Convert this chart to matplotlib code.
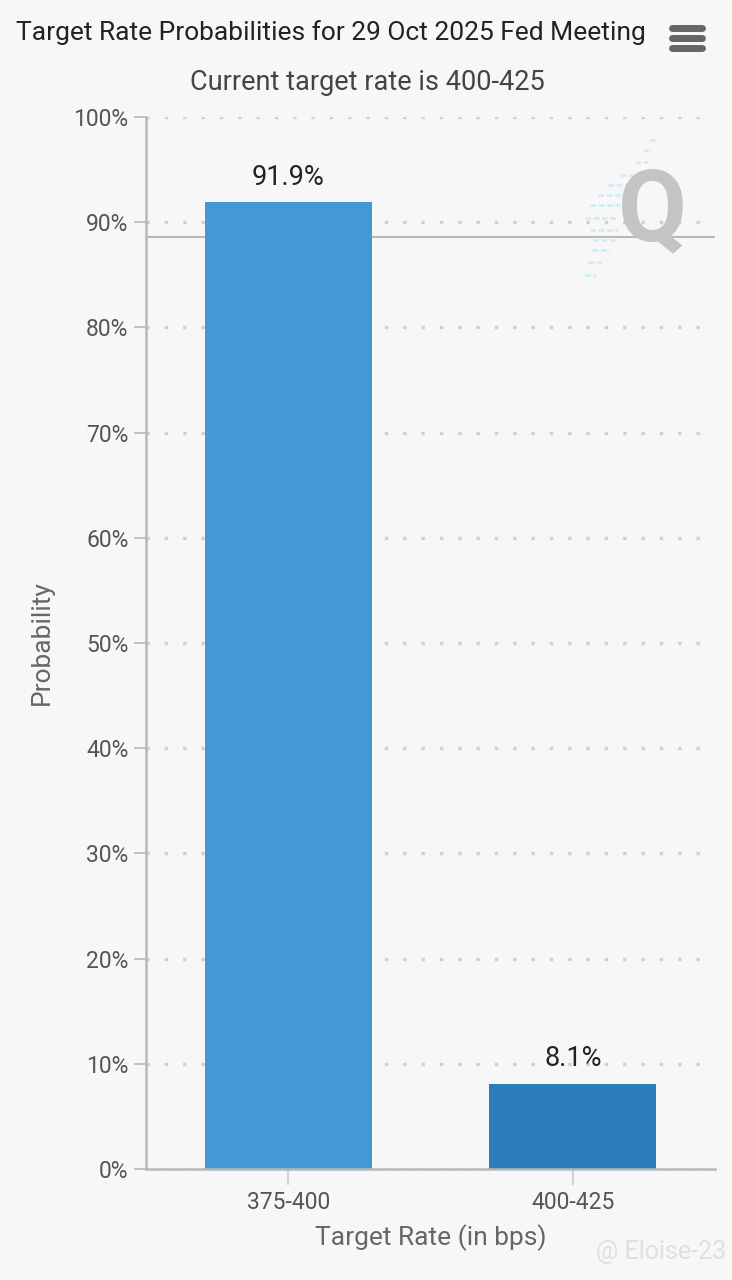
import matplotlib.pyplot as plt
from matplotlib.lines import Line2D

rates = ["375-400", "400-425"]
probs = [91.9, 8.1]
bar_colors = ["#4299d3", "#2a7db8"]
yticks = [0, 10, 20, 30, 40, 50, 60, 70, 80, 90, 100]
current_line = 88.6

plt.rcParams['font.family'] = ['Roboto', 'DejaVu Sans']
bg = "#f7f7f7"

fig = plt.figure(figsize=(7.32, 12.8), dpi=100, facecolor=bg)
W, H = 732, 1280
ax = fig.add_axes([146 / W, 1 - 1169 / H, (715 - 146) / W, (1169 - 117) / H])
ax.set_facecolor(bg)

# dotted grid
for v in yticks:
    ax.axhline(v, color="#d0d0d0", lw=2.4, ls=(0, (1, 4.5)), zorder=0)

xs = range(len(rates))
ax.bar(xs, probs, width=0.587, color=bar_colors, zorder=2)
for x, p in zip(xs, probs):
    ax.text(x, p + 1.1, f"{p}%", ha="center", va="bottom", fontsize=19.5, color="#222222")

ax.axhline(current_line, color="#b8b8b8", lw=1.5, zorder=1)

ax.set_xlim(-0.5, 1.5)
ax.set_ylim(0, 100)
ax.set_yticks(yticks)
ax.set_yticklabels([f"{v}%" for v in yticks], fontsize=16.5, color="#555555")
ax.set_xticks(list(xs))
ax.set_xticklabels(rates, fontsize=16.5, color="#555555")
ax.tick_params(axis="y", length=8.6, width=1.2, color="#b8b8b8", pad=4)
ax.tick_params(axis="x", length=11.5, width=1.2, color="#cccccc", pad=4)
for s in ["top", "right"]:
    ax.spines[s].set_visible(False)
for s in ["left", "bottom"]:
    ax.spines[s].set_color("#b8b8b8")
    ax.spines[s].set_linewidth(1.8)
ax.spines["bottom"].set_zorder(3)

ax.set_ylabel("Probability", fontsize=19, color="#666666", labelpad=14)
ax.set_xlabel("Target Rate (in bps)", fontsize=19, color="#666666", labelpad=8)

fig.text(16 / W, 1 - 33 / H, "Target Rate Probabilities for 29 Oct 2025 Fed Meeting",
         fontsize=19, color="#222222", ha="left", va="center")
fig.text(367 / W, 1 - 83 / H, "Current target rate is 400-425",
         fontsize=19.5, color="#444444", ha="center", va="center")

# menu icon
for yy in [28, 38, 48]:
    fig.add_artist(Line2D([672 / W, 702 / W], [1 - yy / H, 1 - yy / H],
                          color="#666666", lw=5, solid_capstyle="round"))

# watermark logo
for xa, xb, yy in [(650, 656, 140), (643, 652, 150), (635, 648, 162),
                   (620, 632, 175), (608, 626, 185), (598, 622, 195),
                   (590, 620, 205), (585, 618, 218), (590, 618, 230),
                   (593, 615, 240), (592, 610, 250), (588, 604, 262),
                   (585, 596, 275)]:
    fig.add_artist(Line2D([xa / W, xb / W], [1 - yy / H, 1 - yy / H],
                          color="#cdeefb", lw=2, ls=(0, (2, 1))))
fig.text(652 / W, 1 - 213 / H, "Q", fontsize=72, fontweight="bold", color="#c4c4c4",
         ha="center", va="center")

fig.text(596 / W, 1 - 1252 / H, "@ Eloise-23", fontsize=18, color="#e0e0e0",
         ha="left", va="center")

fig.savefig("out.png", dpi=100, facecolor=bg)
